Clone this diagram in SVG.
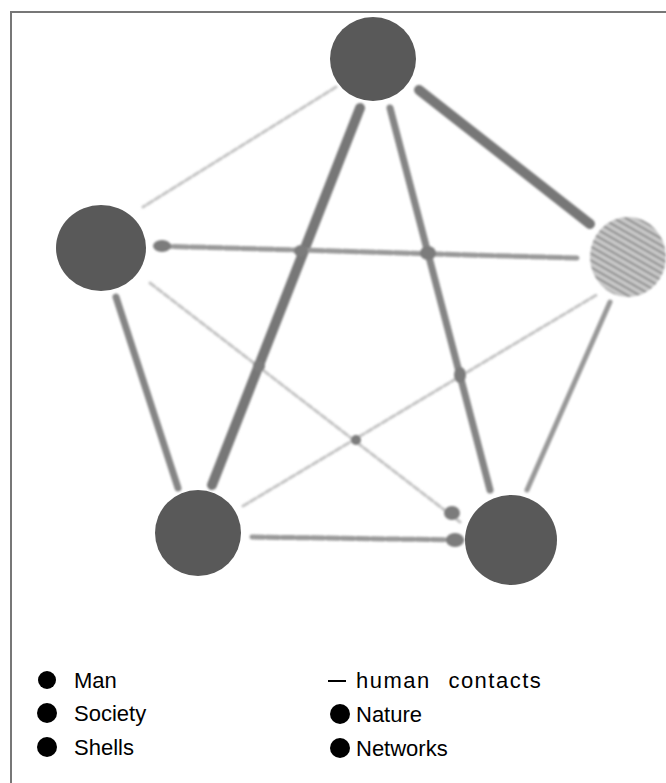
<svg xmlns="http://www.w3.org/2000/svg" width="666" height="783" viewBox="0 0 666 783">
<defs>
<style>
.node{fill:#595959}
.e{fill:none;stroke:#8a8a8a;stroke-linecap:round}
.thick{stroke:#777;stroke-width:10}
.mid{stroke:#858585;stroke-width:7}
.thin{stroke:#999;stroke-width:5}
.faint{stroke:#c4c4c4;stroke-width:3;stroke-dasharray:6 3}
.blob{fill:#7c7c7c}
.lg{font-family:"Liberation Sans",Arial,sans-serif;font-size:22px;fill:#000}
.dot{fill:#000}
</style>
<pattern id="hatch" width="6" height="6" patternUnits="userSpaceOnUse" patternTransform="rotate(30)">
<rect width="6" height="6" fill="#c8c8c8"/>
<line x1="0" y1="2" x2="6" y2="2" stroke="#8c8c8c" stroke-width="2"/>
</pattern>
<filter id="soft" x="-10%" y="-10%" width="120%" height="120%"><feGaussianBlur stdDeviation="0.8"/></filter>
</defs>
<rect width="666" height="783" fill="#fff"/>
<g id="frame" stroke="#777" stroke-width="2" fill="none">
<polyline points="11,783 11,12 666,12"/>
</g>
<g id="connectors" filter="url(#soft)">
<line class="e faint" x1="336" y1="87" x2="143" y2="207"/>
<line class="e thick" x1="360" y1="108" x2="212" y2="485"/>
<line class="e mid" x1="390" y1="108" x2="490" y2="490"/>
<line class="e thick" x1="419" y1="90" x2="590" y2="224"/>
<line class="e thin" x1="157" y1="246" x2="577" y2="258" stroke-dasharray="14 3"/>
<line class="e faint" x1="150" y1="283" x2="460" y2="522"/>
<line class="e mid" x1="116" y1="297" x2="178" y2="488"/>
<line class="e faint" x1="243" y1="506" x2="598" y2="294"/>
<line class="e thin" x1="252" y1="537" x2="462" y2="540" stroke-dasharray="12 3"/>
<line class="e thin" x1="610" y1="302" x2="527" y2="490"/>
<ellipse class="blob" cx="428" cy="253" rx="8" ry="7"/>
<ellipse class="blob" cx="301" cy="251" rx="7" ry="6"/>
<ellipse class="blob" cx="259" cy="366" rx="6" ry="6"/>
<ellipse class="blob" cx="460" cy="375" rx="6" ry="8"/>
<ellipse class="blob" cx="356" cy="440" rx="5" ry="5"/>
<ellipse class="blob" cx="162" cy="246" rx="9" ry="6"/>
<ellipse class="blob" cx="455" cy="540" rx="9" ry="7"/>
<ellipse class="blob" cx="452" cy="513" rx="8" ry="7"/>
</g>
<g id="node-top"><ellipse class="node" cx="373" cy="59" rx="43" ry="42"/></g>
<g id="node-left"><ellipse class="node" cx="101" cy="248" rx="45" ry="43"/></g>
<g id="node-right"><ellipse cx="628" cy="257" rx="38" ry="40" fill="url(#hatch)" filter="url(#soft)"/></g>
<g id="node-bottom-left"><ellipse class="node" cx="198" cy="533" rx="43" ry="43"/></g>
<g id="node-bottom-right"><ellipse class="node" cx="511" cy="540" rx="46" ry="45"/></g>
<g id="legend">
<circle class="dot" cx="47" cy="680" r="9" fill="#222"/>
<text class="lg" x="74" y="688">Man</text>
<circle class="dot" cx="47" cy="713" r="10"/>
<text class="lg" x="74" y="721">Society</text>
<circle class="dot" cx="47" cy="747" r="10"/>
<text class="lg" x="74" y="755">Shells</text>
<line x1="328" y1="681" x2="346" y2="681" stroke="#000" stroke-width="2"/>
<text class="lg" x="356" y="688" word-spacing="10" letter-spacing="1.5">human contacts</text>
<circle class="dot" cx="340" cy="714" r="10"/>
<text class="lg" x="356" y="722">Nature</text>
<circle class="dot" cx="340" cy="748" r="10"/>
<text class="lg" x="356" y="756">Networks</text>
</g>
</svg>
